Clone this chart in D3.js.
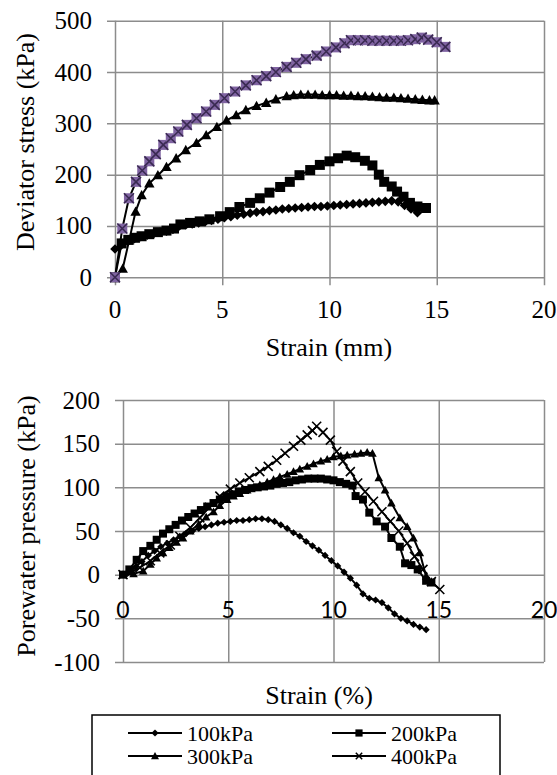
<!DOCTYPE html>
<html>
<head>
<meta charset="utf-8">
<script src="https://cdn.jsdelivr.net/npm/d3@7/dist/d3.min.js"></script>
<style>
  body { margin: 0; background: #fff; }
  svg { display: block; }
  .serif { font-family: "Liberation Serif", "Times New Roman", Times, "DejaVu Serif", serif; }
  .sans { font-family: Lato, Carlito, "Open Sans", sans-serif; }
</style>
</head>
<body>
<svg id="chart" width="557" height="775"></svg>
<script>
// Series labels (confining pressures)
const seriesNames = ["100kPa", "200kPa", "300kPa", "400kPa"];

// Top chart: strain (mm) vs deviator stress (kPa)
const dev100 = [[0,55],[0.3,63],[0.6,70],[0.9,75],[1.2,79],[1.5,82],[1.8,85],[2.1,88],[2.4,90],[2.7,93],[3.0,100],[3.3,102],[3.6,104],[3.9,106],[4.2,108],[4.5,111],[4.8,113],[5.1,116],[5.4,118],[5.7,121],[6.0,123],[6.3,125],[6.6,127],[6.9,128],[7.2,130],[7.5,131],[7.8,133],[8.1,134],[8.4,135],[8.7,136],[9.0,137],[9.3,138],[9.6,138],[9.9,139],[10.2,140],[10.5,141],[10.8,142],[11.1,143],[11.4,144],[11.7,145],[12.0,146],[12.3,147],[12.6,148],[12.9,149],[13.2,147],[13.5,140],[13.8,133],[14.1,126]];
const dev200 = [[0,0],[0.31,66],[0.62,73],[0.93,77],[1.24,80],[1.6,84],[2.0,88],[2.4,91],[2.75,95],[3.05,103],[3.5,106],[3.95,109],[4.4,113],[4.9,119],[5.35,127],[5.8,137],[6.3,145],[6.75,154],[7.2,165],[7.7,176],[8.15,186],[8.6,199],[9.1,209],[9.55,219],[10.0,226],[10.4,232],[10.8,237],[11.2,234],[11.65,227],[12.0,218],[12.3,200],[12.55,186],[12.9,177],[13.15,167],[13.45,157],[13.75,145],[14.1,138],[14.5,135]];
const dev300 = [[0,0],[0.36,17],[0.66,72],[0.96,128],[1.24,160],[1.6,183],[2.0,199],[2.4,215],[2.85,232],[3.3,248],[3.8,262],[4.25,277],[4.75,293],[5.2,306],[5.65,316],[6.1,326],[6.6,334],[7.05,340],[7.5,347],[8.0,353],[8.33,355],[8.66,356],[9.0,356],[9.33,356],[9.66,355],[10.0,355],[10.33,355],[10.66,354],[11.0,354],[11.33,353],[11.66,353],[12.0,352],[12.33,351],[12.66,350],[13.0,350],[13.33,349],[13.66,348],[14.0,347],[14.33,346],[14.66,345],[14.9,345]];
const dev400 = [[0,0],[0.34,95],[0.65,154],[0.98,186],[1.27,208],[1.6,226],[1.9,240],[2.25,258],[2.6,271],[2.95,284],[3.35,297],[3.8,310],[4.25,323],[4.65,336],[5.1,349],[5.6,362],[6.1,374],[6.6,384],[7.05,392],[7.5,400],[8.0,410],[8.45,418],[8.9,425],[9.4,432],[9.85,440],[10.3,448],[10.7,456],[11.0,462],[11.33,462],[11.66,462],[12.0,461],[12.33,461],[12.66,461],[13.0,461],[13.33,461],[13.66,462],[14.0,464],[14.3,467],[14.6,463],[15.0,458],[15.4,449]];

// Bottom chart: strain (%) vs porewater pressure (kPa)
const pwp100 = [[0,0],[0.3,4],[0.6,9],[0.9,15],[1.2,22],[1.5,27],[1.8,32],[2.1,36],[2.4,40],[2.7,44],[3.0,47],[3.3,50],[3.6,53],[3.9,55],[4.2,57],[4.5,59],[4.8,60],[5.1,61],[5.4,62],[5.7,62],[6.0,63],[6.3,64],[6.6,64],[6.9,63],[7.2,61],[7.5,57],[7.8,53],[8.1,48],[8.4,44],[8.7,38],[9.0,33],[9.3,28],[9.6,22],[9.9,16],[10.2,10],[10.5,3],[10.8,-4],[11.1,-12],[11.4,-22],[11.7,-27],[12.0,-29],[12.3,-32],[12.6,-38],[12.9,-45],[13.2,-50],[13.5,-53],[13.8,-57],[14.1,-60],[14.4,-63]];
const pwp200 = [[0,0],[0.3,6],[0.65,17],[0.96,27],[1.3,33],[1.6,40],[1.9,47],[2.2,52],[2.5,57],[2.8,62],[3.1,66],[3.4,70],[3.7,74],[4.0,78],[4.3,82],[4.6,86],[4.9,89],[5.2,92],[5.5,95],[5.8,97],[6.1,99],[6.4,100],[6.7,101],[7.0,102],[7.3,104],[7.6,105],[7.9,106],[8.2,108],[8.5,109],[8.8,110],[9.1,110],[9.4,110],[9.7,109],[10.0,108],[10.3,106],[10.6,104],[10.9,102],[11.05,90],[11.4,86],[11.7,71],[12.05,61],[12.45,55],[12.75,42],[13.15,32],[13.4,13],[13.7,11],[14.0,6],[14.4,-7],[14.65,-9]];
const pwp300 = [[0,0],[0.5,1],[0.96,4],[1.3,12],[1.6,19],[1.9,25],[2.2,31],[2.55,37],[2.85,42],[3.2,50],[3.6,58],[3.95,66],[4.3,72],[4.6,79],[4.95,86],[5.25,90],[5.55,93],[5.9,97],[6.2,100],[6.5,103],[6.85,106],[7.15,109],[7.45,112],[7.8,115],[8.1,118],[8.4,121],[8.75,124],[9.05,127],[9.4,130],[9.7,132],[10.0,135],[10.35,136],[10.65,137],[11.0,138],[11.3,139],[11.6,140],[11.85,139],[12.15,111],[12.45,97],[12.75,82],[13.15,65],[13.5,55],[13.8,42],[14.1,25],[14.4,-2],[14.65,-8]];
const pwp400 = [[0,0],[0.4,3],[0.8,8],[1.3,16],[1.75,25],[2.25,34],[2.7,44],[3.2,54],[3.65,65],[4.1,77],[4.6,90],[5.1,98],[5.55,105],[6.0,111],[6.5,118],[6.9,124],[7.3,131],[7.7,139],[8.1,147],[8.45,154],[8.75,160],[9.0,165],[9.2,170],[9.5,163],[9.85,154],[10.15,141],[10.45,130],[10.8,118],[11.15,105],[11.5,95],[11.9,84],[12.3,72],[12.7,61],[13.1,50],[13.5,36],[13.85,21],[14.25,6],[14.65,-8],[15.05,-17]];

// Tick values
const xTicks = [0, 5, 10, 15, 20];
const devTicks = [0, 100, 200, 300, 400, 500];
const pwpTicks = [-100, -50, 0, 50, 100, 150, 200];

const gridColor = "#8c8c8c";

function markerPath(type, r) {
	switch (type) {
		case "diamond":
			return `M0,${-r}L${r},0L0,${r}L${-r},0Z`;
		case "square":
			return `M${-r},${-r}H${r}V${r}H${-r}Z`;
		case "triangle":
			return `M0,${-r}L${r},${r * 0.8}L${-r},${r * 0.8}Z`;
		case "x":
			return `M${-r},${-r}L${r},${r}M${r},${-r}L${-r},${r}`;
	}
}

const svg = d3.select("#chart");

function drawGrid(g, x, y, xt, yt, left, right, top, bottom, xExtend) {
	// horizontal gridlines (with 8px tick stub to the left)
	g.append("g")
		.attr("transform", `translate(${left - 8},0)`)
		.attr("font-family", null)
		.attr("font-size", null)
		.call(d3.axisLeft(y).tickValues(yt).tickSizeInner(-(right - left + 8)).tickSizeOuter(0).tickPadding(15).tickFormat((d) => String(d)))
		.call((a) => a.select(".domain").remove())
		.call((a) => a.selectAll("line").attr("stroke", gridColor).attr("stroke-width", 1.5))
		.call((a) => a.selectAll("text").attr("class", "serif").style("font-size", "25px").attr("fill", "#000"));
	// vertical gridlines
	g.append("g")
		.attr("transform", `translate(0,${bottom + xExtend})`)
		.call(d3.axisBottom(x).tickValues(xt).tickSizeInner(-(bottom - top + xExtend)).tickSizeOuter(0).tickFormat(""))
		.call((a) => a.select(".domain").remove())
		.call((a) => a.selectAll("line").attr("stroke", gridColor).attr("stroke-width", 1.5));
}

function drawSeries(g, x, y, data, type, r, opts) {
	const line = d3.line().x((d) => x(d[0])).y((d) => y(d[1]));
	g.append("path")
		.datum(data)
		.attr("d", line)
		.attr("fill", "none")
		.attr("stroke", "#000")
		.attr("stroke-width", opts.lineWidth);
	const m = g.append("g")
		.selectAll("g")
		.data(data)
		.join("g")
		.attr("transform", (d) => `translate(${x(d[0])},${y(d[1])})`);
	if (type === "x") {
		if (opts.xFill) {
			m.append("path").attr("d", markerPath("square", r)).attr("fill", opts.xFill);
		}
		m.append("path")
			.attr("d", markerPath("x", r))
			.attr("fill", "none")
			.attr("stroke", opts.xStroke || "#000")
			.attr("stroke-width", opts.xWidth || 1.5);
	} else {
		m.append("path").attr("d", markerPath(type, r)).attr("fill", "#000");
	}
}

// ---------- Top chart ----------
{
	const left = 115, right = 544, top = 20.7, bottom = 277.3;
	const x = d3.scaleLinear().domain([0, 20]).range([left, right]);
	const y = d3.scaleLinear().domain([0, 500]).range([bottom, top]);
	const g = svg.append("g");
	drawGrid(g, x, y, xTicks, devTicks, left, right, top, bottom, 8);

	g.append("g")
		.selectAll("text")
		.data(xTicks)
		.join("text")
		.attr("class", "serif")
		.attr("x", (d) => x(d))
		.attr("y", 318)
		.attr("text-anchor", "middle")
		.style("font-size", "25px")
		.text((d) => d);

	const opts = { lineWidth: 2 };
	drawSeries(g, x, y, dev100, "diamond", 4.8, opts);
	drawSeries(g, x, y, dev200, "square", 5, opts);
	drawSeries(g, x, y, dev300, "triangle", 5.2, opts);
	drawSeries(g, x, y, dev400, "x", 5, { lineWidth: 2, xFill: "#8064a2", xStroke: "#3a2a52", xWidth: 1.6 });

	g.append("text")
		.attr("class", "serif")
		.attr("x", 329)
		.attr("y", 356)
		.attr("text-anchor", "middle")
		.style("font-size", "26px")
		.text("Strain (mm)");
	g.append("text")
		.attr("class", "serif")
		.attr("transform", "translate(34,142) rotate(-90)")
		.attr("text-anchor", "middle")
		.style("font-size", "26px")
		.text("Deviator stress (kPa)");
}

// ---------- Bottom chart ----------
{
	const left = 123, right = 544, top = 400, bottom = 662;
	const x = d3.scaleLinear().domain([0, 20]).range([left, right]);
	const y = d3.scaleLinear().domain([-100, 200]).range([bottom, top]);
	const g = svg.append("g");
	drawGrid(g, x, y, xTicks, pwpTicks, left, right, top, bottom, 0);

	// x tick labels sit under the zero line
	g.append("g")
		.selectAll("text")
		.data(xTicks)
		.join("text")
		.attr("class", "sans")
		.attr("x", (d) => x(d))
		.attr("y", y(0) + 43)
		.attr("text-anchor", "middle")
		.style("font-size", "23px")
		.text((d) => d);

	const opts = { lineWidth: 2 };
	drawSeries(g, x, y, pwp100, "diamond", 3.6, opts);
	drawSeries(g, x, y, pwp200, "square", 4, opts);
	drawSeries(g, x, y, pwp300, "triangle", 4.3, opts);
	drawSeries(g, x, y, pwp400, "x", 4.5, { lineWidth: 1.8, xWidth: 1.6 });

	g.append("text")
		.attr("class", "serif")
		.attr("x", 319)
		.attr("y", 704)
		.attr("text-anchor", "middle")
		.style("font-size", "26px")
		.text("Strain (%)");
	g.append("text")
		.attr("class", "serif")
		.attr("transform", "translate(35,526) rotate(-90)")
		.attr("text-anchor", "middle")
		.style("font-size", "26px")
		.text("Porewater pressure (kPa)");
}

// ---------- Legend ----------
{
	const lg = svg.append("g");
	lg.append("rect")
		.attr("x", 92)
		.attr("y", 715)
		.attr("width", 408)
		.attr("height", 80)
		.attr("fill", "#fff")
		.attr("stroke", "#000")
		.attr("stroke-width", 1.5);

	const types = ["diamond", "square", "triangle", "x"];
	const sizes = [3.6, 3.6, 4, 3.2];
	const colX = [128, 332];
	const rowY = [733, 756];
	seriesNames.forEach((name, i) => {
		const cx = colX[i % 2];
		const cy = rowY[Math.floor(i / 2)];
		const e = lg.append("g").attr("transform", `translate(${cx},${cy})`);
		e.append("line").attr("x1", 0).attr("x2", 54).attr("stroke", "#000").attr("stroke-width", 2);
		const mk = e.append("path")
			.attr("transform", "translate(27,0)")
			.attr("d", markerPath(types[i], sizes[i]));
		if (types[i] === "x") mk.attr("fill", "none").attr("stroke", "#000").attr("stroke-width", 1.5);
		else mk.attr("fill", "#000");
		e.append("text")
			.attr("class", "serif")
			.attr("x", 59)
			.attr("y", 8)
			.style("font-size", "22px")
			.text(name);
	});
}
</script>
</body>
</html>
